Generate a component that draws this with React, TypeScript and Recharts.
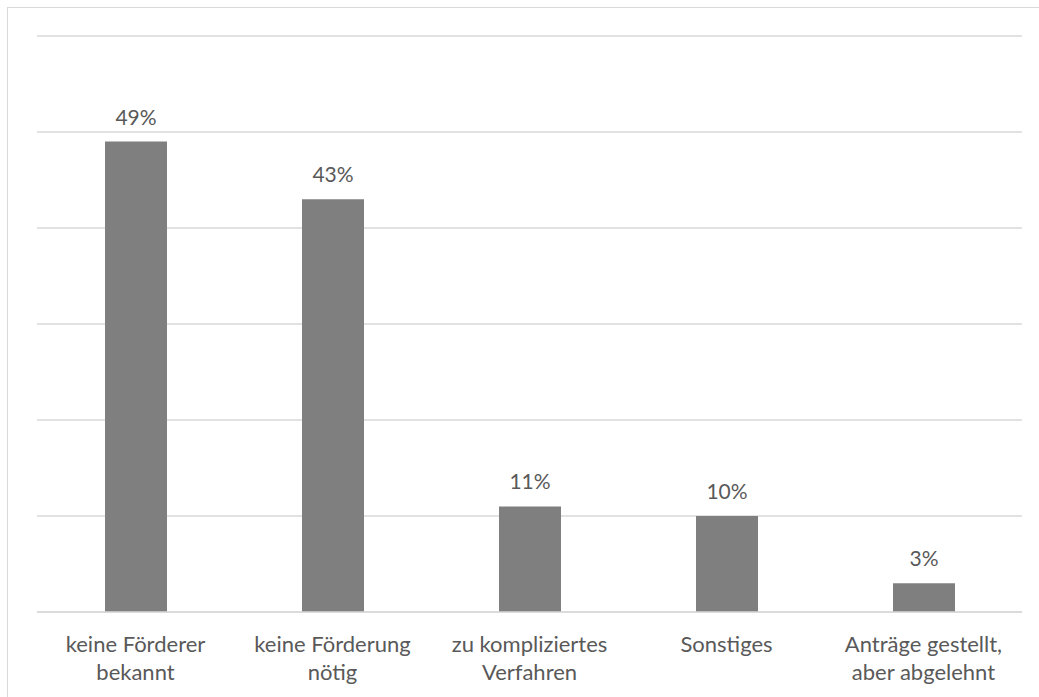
import { Bar, BarChart, CartesianGrid, LabelList, XAxis, YAxis } from "recharts";

const categories = [
  "keine Förderer|bekannt",
  "keine Förderung|nötig",
  "zu kompliziertes|Verfahren",
  "Sonstiges",
  "Anträge gestellt,|aber abgelehnt",
];
const shares = [49, 43, 11, 10, 3];
const yTicks = [0, 10, 20, 30, 40, 50, 60];

const data = categories.map((name, i) => ({ name, value: shares[i] }));

const FONT = "Lato, 'Open Sans', sans-serif";
const TEXT = "#595959";
const GRID = "#d9d9d9";

function CategoryTick(props: any) {
  const { x, y, payload } = props;
  const lines: string[] = String(payload.value).split("|");
  return (
    <text
      x={x}
      y={y}
      textAnchor="middle"
      fill={TEXT}
      fontSize={22}
      fontFamily={FONT}
    >
      {lines.map((l, i) => (
        <tspan key={i} x={x} dy={i === 0 ? 40 : 28}>
          {l}
        </tspan>
      ))}
    </text>
  );
}

export default function App() {
  return (
    <div
      style={{
        position: "absolute",
        left: 0,
        top: 0,
        width: 1039,
        height: 697,
        overflow: "hidden",
        background: "#ffffff",
      }}
    >
      <div
        style={{
          position: "absolute",
          left: 7,
          top: 7,
          width: 1100,
          height: 760,
          border: `1px solid ${GRID}`,
        }}
      />
      <div style={{ position: "absolute", left: 0, top: 0 }}>
        <BarChart
          width={1039}
          height={697}
          data={data}
          margin={{ top: 36, right: 17, left: 37, bottom: 0 }}
        >
          <CartesianGrid stroke={GRID} strokeWidth={1.5} vertical={false} />
          <YAxis hide domain={[0, 60]} ticks={yTicks} />
          <XAxis
            dataKey="name"
            height={85}
            tickLine={false}
            tickSize={0}
            tickMargin={0}
            axisLine={{ stroke: GRID, strokeWidth: 1.5 }}
            tick={<CategoryTick />}
            interval={0}
          />
          <Bar dataKey="value" fill="#7f7f7f" barSize={62} isAnimationActive={false}>
            <LabelList
              dataKey="value"
              position="top"
              offset={17}
              formatter={(v: any) => `${v}%`}
              fill={TEXT}
              fontSize={21}
              fontFamily={FONT}
            />
          </Bar>
        </BarChart>
      </div>
    </div>
  );
}
